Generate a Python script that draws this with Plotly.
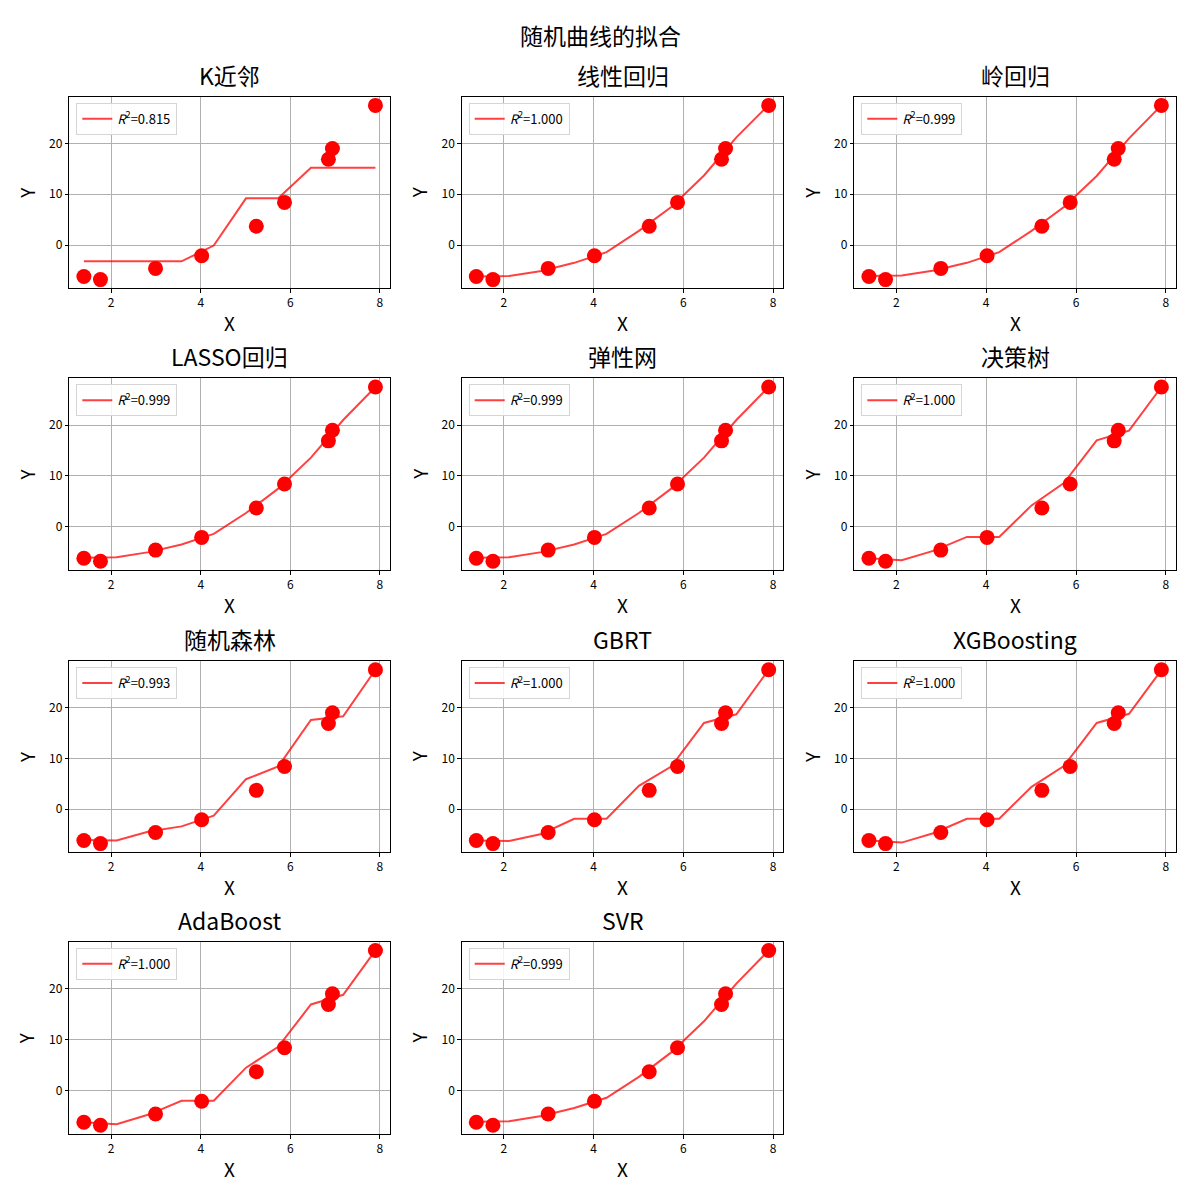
import plotly.graph_objects as go

# ---- data ----
titles = ["K近邻", "线性回归", "岭回归", "LASSO回归", "弹性网", "决策树",
          "随机森林", "GBRT", "XGBoosting", "AdaBoost", "SVR"]
r2_scores = ["0.815", "1.000", "0.999", "0.999", "0.999", "1.000",
             "0.993", "1.000", "1.000", "1.000", "0.999"]

x_points = [1.39, 1.76, 2.99, 4.02, 5.24, 5.87, 6.85, 6.94, 7.90]
y_points = [-6.2, -6.8, -4.6, -2.1, 3.7, 8.4, 16.9, 19.0, 27.5]

x_line = [1.39, 2.12, 2.84, 3.57, 4.29, 5.01, 5.73, 6.46, 7.18, 7.90]

y_knn = [-3.2, -3.2, -3.2, -3.2, -0.1, 9.2, 9.2, 15.2, 15.2, 15.2]
y_linear = [-6.2, -6.1, -5.1, -3.5, -1.4, 2.8, 7.5, 13.7, 21.2, 27.6]
y_ridge = [-6.1, -6.0, -5.0, -3.5, -1.4, 2.8, 7.5, 13.6, 21.0, 27.5]
y_lasso = [-6.1, -6.0, -5.0, -3.5, -1.4, 2.7, 7.5, 13.6, 21.0, 27.5]
y_enet = [-6.1, -6.0, -5.0, -3.5, -1.4, 2.7, 7.5, 13.6, 21.0, 27.5]
y_tree = [-6.2, -6.6, -4.7, -2.0, -2.0, 4.2, 8.6, 17.0, 18.9, 27.5]
y_forest = [-6.1, -6.2, -4.4, -3.4, -1.3, 5.9, 8.4, 17.6, 18.3, 27.5]
y_gbrt = [-6.2, -6.3, -4.9, -1.9, -1.9, 4.6, 8.4, 17.0, 18.7, 27.5]
y_xgb = [-6.2, -6.6, -4.7, -1.9, -1.9, 4.4, 8.5, 17.0, 18.8, 27.4]
y_ada = [-6.2, -6.6, -4.7, -2.0, -2.0, 4.5, 8.6, 16.9, 18.8, 27.5]
y_svr = [-6.1, -6.0, -5.0, -3.4, -1.4, 2.7, 7.5, 13.6, 21.0, 27.5]

model_lines = [y_knn, y_linear, y_ridge, y_lasso, y_enet, y_tree,
               y_forest, y_gbrt, y_xgb, y_ada, y_svr]

suptitle = "随机曲线的拟合"
x_ticks = [2, 4, 6, 8]
y_ticks = [0, 10, 20]

# ---- layout geometry (pixels in 1200x1200 figure) ----
W = H = 1200
col_px = [(69.3, 390.0), (461.7, 783.3), (854.3, 1176.0)]
row_px = [(96.7, 288.3), (378.3, 570.0), (661.0, 852.3), (941.7, 1134.0)]

FONT = "Noto Sans CJK SC, SimHei, DejaVu Sans, sans-serif"

xmin, xmax = min(x_points), max(x_points)
ymin, ymax = min(y_points), max(y_points)
xpad = (xmax - xmin) * 0.05
ypad = (ymax - ymin) * 0.05
x_range = [xmin - xpad, xmax + xpad]
y_range = [ymin - ypad, ymax + ypad]

fig = go.Figure()
layout = dict(
    width=W, height=H,
    margin=dict(l=0, r=0, t=0, b=0),
    paper_bgcolor="white", plot_bgcolor="white",
    font=dict(family=FONT, color="black", size=12),
    showlegend=True,
)
annotations = []

for i, (title, r2, yl) in enumerate(zip(titles, r2_scores, model_lines)):
    r, c = divmod(i, 3)
    l, rr = col_px[c]
    t, b = row_px[r]
    k = "" if i == 0 else str(i + 1)
    xa = "xaxis" + k
    ya = "yaxis" + k
    leg = "legend" if i == 0 else "legend" + str(i + 1)

    layout[xa] = dict(
        domain=[l / W, rr / W], anchor="y" + k, range=x_range,
        tickvals=x_ticks, ticks="outside", ticklen=3.5, tickwidth=1, tickcolor="black",
        showline=True, linecolor="black", linewidth=1, mirror=True,
        showgrid=True, gridcolor="#b0b0b0", gridwidth=1, zeroline=False,
        tickfont=dict(size=12, family=FONT),
    )
    layout[ya] = dict(
        domain=[1 - b / H, 1 - t / H], anchor="x" + k, range=y_range,
        tickvals=y_ticks, ticks="outside", ticklen=3.5, tickwidth=1, tickcolor="black",
        showline=True, linecolor="black", linewidth=1, mirror=True,
        showgrid=True, gridcolor="#b0b0b0", gridwidth=1, zeroline=False,
        tickfont=dict(size=12, family=FONT),
    )
    layout[leg] = dict(
        x=(l + 7) / W, y=1 - (t + 6) / H, xanchor="left", yanchor="top",
        bgcolor="rgba(255,255,255,0.85)", bordercolor="#d5d5d5", borderwidth=1,
        font=dict(size=13, family=FONT), itemwidth=30,
    )

    fig.add_trace(go.Scatter(
        x=x_points, y=y_points, mode="markers",
        marker=dict(color="red", size=15, line=dict(width=0)),
        xaxis="x" + k, yaxis="y" + k, showlegend=False,
    ))
    fig.add_trace(go.Scatter(
        x=x_line, y=yl, mode="lines",
        line=dict(color="rgba(255,0,0,0.75)", width=2),
        name="<i>R</i><sup>2</sup>=" + r2,
        xaxis="x" + k, yaxis="y" + k, legend=leg, showlegend=True,
    ))

    # subplot title
    annotations.append(dict(
        text=title, x=(l + rr) / 2 / W, y=1 - (t - 3) / H,
        xref="paper", yref="paper", xanchor="center", yanchor="bottom",
        showarrow=False, font=dict(size=23, family=FONT),
    ))
    # X label
    annotations.append(dict(
        text="X", x=(l + rr) / 2 / W, y=1 - (b + 34) / H,
        xref="paper", yref="paper", xanchor="center", yanchor="middle",
        showarrow=False, font=dict(size=19, family=FONT),
    ))
    # Y label
    annotations.append(dict(
        text="Y", x=(l - 43) / W, y=1 - (t + b) / 2 / H,
        xref="paper", yref="paper", xanchor="center", yanchor="middle",
        showarrow=False, textangle=-90, font=dict(size=19, family=FONT),
    ))

annotations.append(dict(
    text=suptitle, x=0.5, y=1 - 35 / H, xref="paper", yref="paper",
    xanchor="center", yanchor="middle", showarrow=False,
    font=dict(size=23, family=FONT),
))
layout["annotations"] = annotations
fig.update_layout(**layout)
fig.write_html("out.html")
